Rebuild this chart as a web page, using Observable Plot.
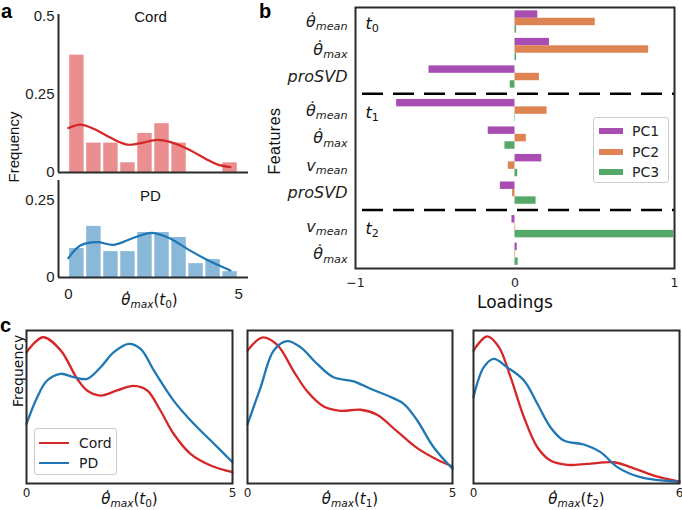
<!DOCTYPE html>
<html><head><meta charset="utf-8">
<script src="https://cdn.jsdelivr.net/npm/d3@7"></script>
<script src="https://cdn.jsdelivr.net/npm/@observablehq/plot@0.6"></script>
<style>
body{margin:0;background:#fff;}
#fig{position:relative;width:682px;height:510px;overflow:hidden;font-family:"DejaVu Sans";}
.lbl{position:absolute;white-space:nowrap;line-height:1;}
.rot{transform:translate(-50%,-50%) rotate(-90deg);}
</style></head><body><div id="fig"></div>
<script>
// ---------- panel a : histograms ----------
const binStarts = [0, 0.5, 1, 1.5, 2, 2.5, 3, 3.5, 4, 4.5];
const binWidth = 0.5;
const cordFreq = [0.375, 0.094, 0.094, 0.031, 0.125, 0.156, 0.094, 0, 0, 0.031];
const pdFreq   = [0.094, 0.166, 0.084, 0.084, 0.146, 0.146, 0.130, 0.045, 0.058, 0.019];
const cordKdeX = [0, 0.35, 0.74, 1.24, 1.73, 2.12, 2.61, 3.0, 3.49, 4.08, 4.37, 4.76];
const cordKdeY = [0.142, 0.153, 0.140, 0.111, 0.089, 0.094, 0.104, 0.097, 0.076, 0.041, 0.026, 0.017];
const pdKdeX = [0, 0.35, 0.84, 1.33, 1.92, 2.46, 3.0, 3.49, 4.08, 4.76];
const pdKdeY = [0.063, 0.104, 0.115, 0.106, 0.129, 0.145, 0.126, 0.093, 0.057, 0.023];
const cordTicksY = [0, 0.25, 0.5];
const pdTicksY = [0, 0.25];
const aTicksX = [0, 5];

// ---------- panel b : loadings ----------
const features = ["$θ̇_{mean}", "$θ̇_{max}", "$proSVD", "$θ̇_{mean}", "$θ̇_{max}", "$v_{mean}", "$proSVD", "$v_{mean}", "$θ̇_{max}"];
const featureSection = [0, 0, 0, 1, 1, 1, 1, 2, 2];
const sections = ["$t_{0}", "$t_{1}", "$t_{2}"];
const pcs = ["PC1", "PC2", "PC3"];
const pc1 = [0.143, 0.216, -0.539, -0.742, -0.168, 0.168, -0.092, -0.019, 0.014];
const pc2 = [0.503, 0.838, 0.153, 0.201, 0.071, -0.042, -0.015, 0.004, 0.004];
const pc3 = [0.010, 0.010, -0.030, 0.003, -0.063, 0.017, 0.132, 0.995, 0.020];
const pcColors = ["#a84eb2", "#dd8452", "#55a868"];
const bTicksX = [-1, 0, 1];

// ---------- panel c : KDE curves ----------
const groups = ["Cord", "PD"];
const groupColors = ["#d62728", "#1f77b4"];
const cLabels = ["$θ̇_{max}(t_{0})", "$θ̇_{max}(t_{1})", "$θ̇_{max}(t_{2})"];
const cTicks = [[0, 5], [0, 5], [0, 6]];
const c0CordX = [0, 0.4, 0.83, 1.23, 1.47, 1.8, 2.2, 2.6, 2.93, 3.25, 3.57, 3.98, 4.47, 5];
const c0CordY = [0.858, 0.956, 0.87, 0.684, 0.608, 0.575, 0.608, 0.638, 0.608, 0.477, 0.325, 0.194, 0.118, 0.074];
const c0PdX = [0, 0.26, 0.5, 0.83, 1.15, 1.47, 1.8, 2.12, 2.48, 2.77, 3.09, 3.57, 4.06, 4.55, 5];
const c0PdY = [0.39, 0.564, 0.673, 0.717, 0.695, 0.684, 0.76, 0.858, 0.913, 0.88, 0.739, 0.542, 0.39, 0.26, 0.139];
const c1CordX = [0, 0.36, 0.72, 1.13, 1.46, 1.86, 2.27, 2.76, 3.16, 3.65, 4.14, 4.63, 5];
const c1CordY = [0.869, 0.954, 0.907, 0.732, 0.601, 0.503, 0.475, 0.482, 0.449, 0.34, 0.231, 0.155, 0.111];
const c1PdX = [0, 0.32, 0.64, 0.97, 1.29, 1.7, 2.1, 2.59, 3.0, 3.41, 3.81, 4.14, 4.54, 5];
const c1PdY = [0.386, 0.629, 0.869, 0.93, 0.891, 0.782, 0.694, 0.668, 0.619, 0.575, 0.521, 0.412, 0.237, 0.096];
const c2CordX = [0, 0.4, 0.74, 1.08, 1.47, 1.86, 2.24, 2.73, 3.31, 4.09, 4.57, 5.25, 6];
const c2CordY = [0.869, 0.961, 0.891, 0.695, 0.433, 0.237, 0.15, 0.122, 0.128, 0.139, 0.107, 0.052, 0.012];
const c2PdX = [0, 0.3, 0.59, 0.98, 1.47, 1.86, 2.24, 2.63, 3.21, 3.7, 4.19, 4.86, 6];
const c2PdY = [0.564, 0.76, 0.815, 0.76, 0.673, 0.521, 0.368, 0.281, 0.255, 0.205, 0.107, 0.041, 0.01];

// ---------- helpers ----------
const fig = document.getElementById("fig");
const SVGNS = "http://www.w3.org/2000/svg";
const spine = "#2b2b2b";
const plain = d => d < 0 ? "\u2212" + (-d) : String(d);
function mathify(svg, size) {
  svg.querySelectorAll("text").forEach(t => {
    const s = t.textContent;
    if (!s.startsWith("$")) return;
    const spec = s.slice(1);
    while (t.firstChild) t.removeChild(t.firstChild);
    t.style.fontSize = size + "px";
    t.style.fontFamily = "DejaVu Sans";
    const subSize = size * 0.7, drop = size * 0.21;
    let cur = 0;
    const re = /_\{([^}]*)\}|([^_]+)/g; let m;
    while ((m = re.exec(spec))) {
      const isSub = m[1] != null;
      const str = isSub ? m[1] : m[2];
      const runs = str.match(/[A-Za-zθ\u0307]+|[^A-Za-zθ\u0307]+/g) || [];
      runs.forEach(r => {
        const ts = document.createElementNS(SVGNS, "tspan");
        ts.textContent = r;
        if (/[A-Za-zθ]/.test(r)) ts.setAttribute("font-style", "italic");
        ts.setAttribute("font-size", isSub ? subSize : size);
        const target = isSub ? drop : 0;
        if (target !== cur) { ts.setAttribute("dy", target - cur); cur = target; }
        t.appendChild(ts);
      });
    }
  });
}
function add(svg, left, top, mathSize) {
  svg.style.position = "absolute";
  svg.style.left = left + "px";
  svg.style.top = top + "px";
  if (mathSize) mathify(svg, mathSize);
  fig.appendChild(svg);
}
function label(text, left, top, css, cls) {
  const d = document.createElement("div");
  d.className = "lbl" + (cls ? " " + cls : "");
  d.textContent = text;
  d.style.left = left + "px"; d.style.top = top + "px";
  Object.assign(d.style, css || {});
  fig.appendChild(d);
  return d;
}
const pts = (xs, ys) => xs.map((x, i) => ({x, y: ys[i]}));

// ---------- panel a ----------
const aXDomain = [-0.29, 5.29];
function histPanel(freq, kx, ky, color, title, yDomain, yTicks, opts) {
  const bins = binStarts.map((b, i) => ({x1: b, x2: b + binWidth, y: freq[i]}));
  return Plot.plot({
    width: 250, height: opts.height, marginLeft: 58, marginRight: 2,
    marginTop: opts.mt, marginBottom: opts.mb,
    style: {background: "transparent", fontFamily: "Liberation Sans", fontSize: "15px", color: "#222", overflow: "visible"},
    x: {domain: aXDomain, ...(opts.xaxis ? {ticks: aTicksX, tickSize: 0, tickPadding: 11, label: null, tickFormat: plain} : {axis: null})},
    y: {domain: yDomain, ticks: yTicks, tickSize: 0, tickPadding: 4, label: null, tickFormat: plain},
    marks: [
      Plot.rect(bins, {x1: "x1", x2: "x2", y1: () => 0, y2: "y", fill: color, fillOpacity: 0.52, insetLeft: 1.3, insetRight: 1.3}),
      Plot.line(pts(kx, ky), {x: "x", y: "y", stroke: color, strokeWidth: 2.2, curve: "catmull-rom"}),
      Plot.ruleX([aXDomain[0]], {stroke: spine, strokeWidth: 2}),
      Plot.ruleY([yDomain[0]], {stroke: spine, strokeWidth: 2}),
      Plot.text([title], {frameAnchor: "top", dx: -3, dy: opts.titleDy, lineAnchor: "middle", fontSize: 15, fontFamily: "Liberation Sans", fill: "#111"}),
      ...(opts.xaxis ? [Plot.text(["$θ̇_{max}(t_{0})"], {frameAnchor: "bottom", dx: -4, dy: 23, lineAnchor: "middle", fill: "#111"})] : [])
    ]
  });
}
add(histPanel(cordFreq, cordKdeX, cordKdeY, groupColors[0], "Cord", [0, 0.505], cordTicksY,
  {height: 175, mt: 14, mb: 3, titleDy: 3, xaxis: false}), 0, 0);
add(histPanel(pdFreq, pdKdeX, pdKdeY, groupColors[1], "PD", [0, 0.315], pdTicksY,
  {height: 136, mt: 4, mb: 35, titleDy: 16, xaxis: true}), 0, 176, 15);

// ---------- panel b ----------
const loadings = [pc1, pc2, pc3];
const bPos = features.map((f, i) => i + 0.22 * featureSection[i]);
const bLabelAt = new Map(bPos.map((p, i) => [p, features[i]]));
const bBars = features.flatMap((f, i) => pcs.map((pc, j) => ({pos: bPos[i], j, pc, v: loadings[j][i]})));
const barH = 0.27;
const firstOfSection = sections.map((s, k) => featureSection.indexOf(k));
const sepPos = firstOfSection.slice(1).map(i => (bPos[i - 1] + bPos[i]) / 2);
const bY = [bPos[0] - 0.527, bPos[bPos.length - 1] + 0.52];
add(Plot.plot({
  width: 432, height: 310, marginLeft: 105, marginRight: 8, marginTop: 7, marginBottom: 42,
  style: {background: "transparent", fontFamily: "DejaVu Sans", fontSize: "12.5px", color: "#222", overflow: "visible"},
  x: {domain: [-1, 1], ticks: bTicksX, tickSize: 0, tickPadding: 10, label: null, tickFormat: plain},
  y: {domain: bY, reverse: true, ticks: bPos, tickFormat: d => bLabelAt.get(d), tickSize: 0, tickPadding: 8, label: null},
  color: {domain: pcs, range: pcColors},
  marks: [
    Plot.rect(bBars, {x1: () => 0, x2: "v", y1: d => d.pos + (d.j - 1.5) * barH, y2: d => d.pos + (d.j - 0.5) * barH, fill: "pc"}),
    Plot.ruleY(sepPos, {stroke: "#000", strokeWidth: 2.5, strokeDasharray: "21,10", strokeDashoffset: 24}),
    Plot.text(sections, {x: () => -1, y: (d, i) => bPos[firstOfSection[i]], dx: 10, dy: 2, textAnchor: "start", fill: "#111"}),
    Plot.text(["Loadings"], {frameAnchor: "bottom", dy: 34, lineAnchor: "middle", fontSize: 17, fill: "#111"}),
    Plot.frame({stroke: spine, strokeWidth: 2})
  ]
}), 250, 0, 16);

// legend b
const legB = document.createElement("div");
Object.assign(legB.style, {position: "absolute", left: "593px", top: "117px", width: "76px", height: "66px",
  border: "1px solid #cccccc", borderRadius: "3px", background: "rgba(255,255,255,0.85)", boxSizing: "border-box"});
pcs.forEach((pc, j) => {
  const sw = document.createElement("div");
  Object.assign(sw.style, {position: "absolute", left: "5px", top: (10 + j * 20.5) + "px", width: "24px", height: "6px", background: pcColors[j]});
  const tx = document.createElement("div");
  Object.assign(tx.style, {position: "absolute", left: "38px", top: (5 + j * 20.5) + "px", fontSize: "14px", lineHeight: "16px", color: "#222", fontFamily: "DejaVu Sans"});
  tx.textContent = pc;
  legB.appendChild(sw); legB.appendChild(tx);
});
fig.appendChild(legB);

// ---------- panel c ----------
const cData = [
  [c0CordX, c0CordY, c0PdX, c0PdY],
  [c1CordX, c1CordY, c1PdX, c1PdY],
  [c2CordX, c2CordY, c2PdX, c2PdY]
];
const cLayout = [
  {left: 0, width: 240, ml: 26, mr: 8},
  {left: 240, width: 220, ml: 7, mr: 8},
  {left: 460, width: 222, ml: 13, mr: 3}
];
cData.forEach((dset, k) => {
  const L = cLayout[k];
  const ticks = cTicks[k];
  add(Plot.plot({
    width: L.width, height: 200, marginLeft: L.ml, marginRight: L.mr, marginTop: 20, marginBottom: 27,
    style: {background: "transparent", fontFamily: "DejaVu Sans", fontSize: "12px", color: "#222", overflow: "visible"},
    x: {domain: [ticks[0], ticks[ticks.length - 1]], ticks, tickSize: 0, tickPadding: 5, label: null, tickFormat: plain},
    y: {domain: [0, 1], axis: null},
    marks: [
      Plot.line(pts(dset[0], dset[1]), {x: "x", y: "y", stroke: groupColors[0], strokeWidth: 2.3, curve: "catmull-rom"}),
      Plot.line(pts(dset[2], dset[3]), {x: "x", y: "y", stroke: groupColors[1], strokeWidth: 2.3, curve: "catmull-rom"}),
      Plot.text([cLabels[k]], {frameAnchor: "bottom", dy: 16, lineAnchor: "middle", fill: "#111"}),
      ...(k === 0 ? [Plot.text(["Frequency"], {frameAnchor: "left", dx: -8, rotate: -90, fontSize: 14, fill: "#111"})] : []),
      Plot.frame({stroke: spine, strokeWidth: 2})
    ]
  }), L.left, 310, 15);
});

// legend c
const legC = document.createElement("div");
Object.assign(legC.style, {position: "absolute", left: "34px", top: "428px", width: "83px", height: "47px",
  border: "1px solid #cccccc", borderRadius: "3px", background: "rgba(255,255,255,0.85)", boxSizing: "border-box"});
groups.forEach((g, j) => {
  const sw = document.createElement("div");
  Object.assign(sw.style, {position: "absolute", left: "4px", top: (12.5 + j * 20) + "px", width: "30px", height: "2.5px", background: groupColors[j]});
  const tx = document.createElement("div");
  Object.assign(tx.style, {position: "absolute", left: "44px", top: (6 + j * 20) + "px", fontSize: "14px", lineHeight: "16px", color: "#222", fontFamily: "DejaVu Sans"});
  tx.textContent = g;
  legC.appendChild(sw); legC.appendChild(tx);
});
fig.appendChild(legC);

// ---------- titles / panel letters ----------
label("Frequency", 13, 147, {fontSize: "15px", fontFamily: "Liberation Sans", color: "#111"}, "rot");
label("Features", 275, 141, {fontSize: "16px", fontFamily: "Liberation Sans", color: "#111", letterSpacing: "0.5px"}, "rot");
label("a", 1, 1, {fontSize: "20px", fontWeight: "bold", fontFamily: "Liberation Sans", color: "#000"});
label("b", 259, 1, {fontSize: "20px", fontWeight: "bold", fontFamily: "Liberation Sans", color: "#000"});
label("c", 0, 315, {fontSize: "20px", fontWeight: "bold", fontFamily: "Liberation Sans", color: "#000"});
</script></body></html>
